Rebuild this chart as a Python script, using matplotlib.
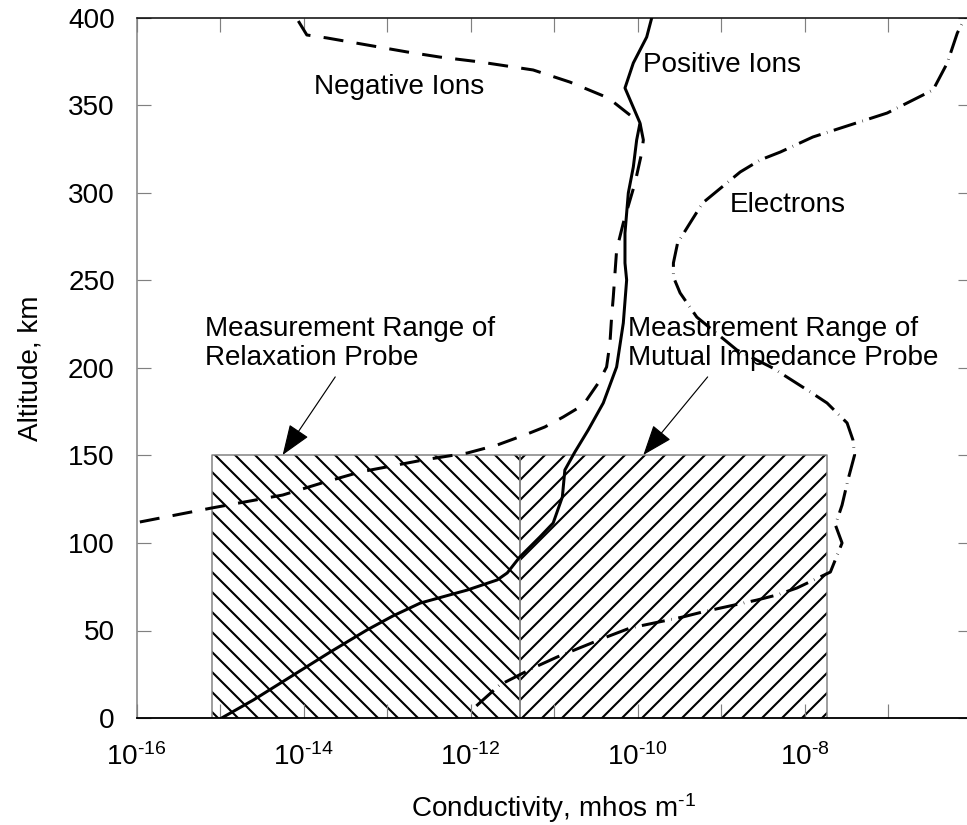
import numpy as np
import matplotlib
matplotlib.use("Agg")
import matplotlib.pyplot as plt

plt.rcParams['font.family'] = ['Liberation Sans', 'DejaVu Sans']
plt.rcParams['mathtext.fontset'] = 'custom'
plt.rcParams['mathtext.rm'] = 'Liberation Sans'
plt.rcParams['mathtext.it'] = 'Liberation Sans:italic'
plt.rcParams['mathtext.default'] = 'regular'
plt.rcParams['lines.scale_dashes'] = False
plt.rcParams['hatch.linewidth'] = 1.25

# conductivity profiles, log10(mhos/m) vs altitude (km)
pos_log = [-14.98, -14.60, -14.16, -13.68, -13.24, -12.93, -12.60, -12.04, -11.68, -11.56,
           -11.41, -11.17, -11.01, -10.90, -10.87, -10.75, -10.59, -10.41, -10.25, -10.17,
           -10.13, -10.15, -10.15, -10.11, -10.05, -10.01, -9.97, -10.15, -10.05, -9.89, -9.83]
pos_alt = [0, 10.3, 23.4, 37.7, 50.3, 58.3, 65.7, 73.1, 78.9, 82.9,
           92.0, 103.4, 111.4, 126.3, 141.7, 152.0, 164.6, 180.0, 200.6, 225.7,
           250.3, 260.0, 277.1, 300.0, 314.9, 330.3, 340.0, 360.0, 374.3, 389.1, 400]

neg_log = [-15.96, -15.10, -14.25, -13.78, -13.32, -12.57, -12.04, -11.68, -11.32, -11.11,
           -10.89, -10.65, -10.47, -10.37, -10.33, -10.31, -10.29, -10.25, -10.17, -10.03,
           -9.95, -9.93, -9.97, -10.35, -10.81, -11.25, -11.89, -12.37, -12.76, -13.24,
           -13.72, -13.96, -14.07, -14.10]
neg_alt = [112.0, 120.0, 127.4, 134.3, 140.6, 147.4, 151.4, 156.0, 162.3, 166.3,
           172.0, 178.9, 191.4, 200.6, 214.3, 229.1, 240.6, 267.4, 282.9, 305.7,
           322.9, 330.3, 340.0, 354.3, 363.4, 370.3, 374.9, 377.7, 380.6, 384.6,
           388.6, 390.3, 398.9, 400]

ele_log = [-11.93, -11.65, -11.25, -10.96, -10.37, -10.09, -9.46, -9.22, -8.57, -8.33,
           -8.09, -7.69, -7.55, -7.63, -7.55, -7.48, -7.40, -7.42, -7.49, -7.73,
           -7.93, -8.38, -8.81, -9.29, -9.49, -9.57, -9.57, -9.52, -9.37, -9.22,
           -8.77, -8.53, -8.29, -7.90, -7.01, -6.46, -6.29, -6.17, -6.08]
ele_alt = [6.9, 18.9, 28.6, 34.9, 46.3, 51.4, 57.7, 60.6, 67.4, 70.3,
           74.3, 83.4, 100.0, 110.3, 121.7, 136.0, 150.3, 158.9, 168.6, 180.0,
           186.3, 200.0, 210.3, 229.1, 242.9, 252.0, 260.0, 271.4, 282.9, 294.3,
           312.0, 318.9, 323.4, 332.0, 345.7, 358.9, 374.3, 391.4, 400]

# probe measurement ranges (log10 conductivity) up to 150 km
relax_range = [-15.09, -11.41]
mutual_range = [-11.41, -7.73]
range_top = 150

W, H, DPI = 967, 825, 120
fig = plt.figure(figsize=(W / DPI, H / DPI), dpi=DPI)
ax = fig.add_axes([136.5 / W, (H - 718) / H, 835 / W, 700 / H])
ax.set_xscale('log')

ax.fill_betweenx([0, range_top], 10.0 ** relax_range[0], 10.0 ** relax_range[1],
                 facecolor='white', edgecolor='black', hatch='\\\\', linewidth=0, zorder=1)
ax.fill_betweenx([0, range_top], 10.0 ** mutual_range[0], 10.0 ** mutual_range[1],
                 facecolor='white', edgecolor='black', hatch='//', linewidth=0, zorder=1)
for lo, hi in (relax_range, mutual_range):
    ax.plot(10.0 ** np.array([lo, lo, hi, hi]), [0, range_top, range_top, 0],
            color='#808080', lw=0.9, zorder=2)

ax.plot(10.0 ** np.array(pos_log), pos_alt, color='black', lw=1.8, zorder=3)
ax.plot(10.0 ** np.array(neg_log), neg_alt, color='black', lw=1.8,
        linestyle=(0, (12, 8)), zorder=3)
ax.plot(10.0 ** np.array(ele_log), ele_alt, color='black', lw=1.8,
        linestyle=(0, (14, 4, 0.3, 4)), zorder=3)

fs = 16.7
ax.text(10 ** -13.87, 360.6, 'Negative Ions', fontsize=fs, ha='left', va='center')
ax.text(10 ** -9.93, 373, 'Positive Ions', fontsize=fs, ha='left', va='center')
ax.text(10 ** -8.89, 293, 'Electrons', fontsize=fs, ha='left', va='center')

arrow = dict(arrowstyle='-|>,head_length=1.6,head_width=0.6', mutation_scale=10,
             color='black', lw=0.7, shrinkA=0, shrinkB=0)
ax.text(10 ** -15.18, 214, 'Measurement Range of\nRelaxation Probe', fontsize=fs,
        ha='left', va='center', linespacing=1.12)
ax.annotate('', xy=(10 ** -14.25, 150.3), xytext=(10 ** -13.62, 194.9), arrowprops=arrow)
ax.text(10 ** -10.11, 214, 'Measurement Range of\nMutual Impedance Probe', fontsize=fs,
        ha='left', va='center', linespacing=1.12)
ax.annotate('', xy=(10 ** -9.93, 150.3), xytext=(10 ** -9.16, 194.9), arrowprops=arrow)

ax.set_xlim(1e-16, 1e-6)
ax.set_ylim(0, 400)
decades = np.arange(-16, -5)
ax.set_xticks(10.0 ** decades)
ax.set_xticklabels(['$10^{\\text{%d}}$' % d if d % 2 == 0 and d < -6 else '' for d in decades])
ax.minorticks_off()
ax.set_yticks(np.arange(0, 401, 50))

ax.tick_params(axis='both', which='major', direction='in', length=8.4, width=0.7,
               color='#808080', labelsize=fs, top=True, right=True)
ax.tick_params(axis='x', pad=15)
ax.tick_params(axis='y', pad=13)

ax.spines['right'].set_visible(False)
ax.spines['left'].set_color('#808080')
ax.spines['left'].set_linewidth(0.9)
ax.spines['top'].set_linewidth(0.9)
ax.spines['bottom'].set_linewidth(1.1)

ax.set_xlabel('Conductivity, mhos m$^{\\text{-1}}$', fontsize=fs, labelpad=12)
ax.set_ylabel('Altitude, km', fontsize=fs, labelpad=15)

fig.savefig('out.png', dpi=DPI)
